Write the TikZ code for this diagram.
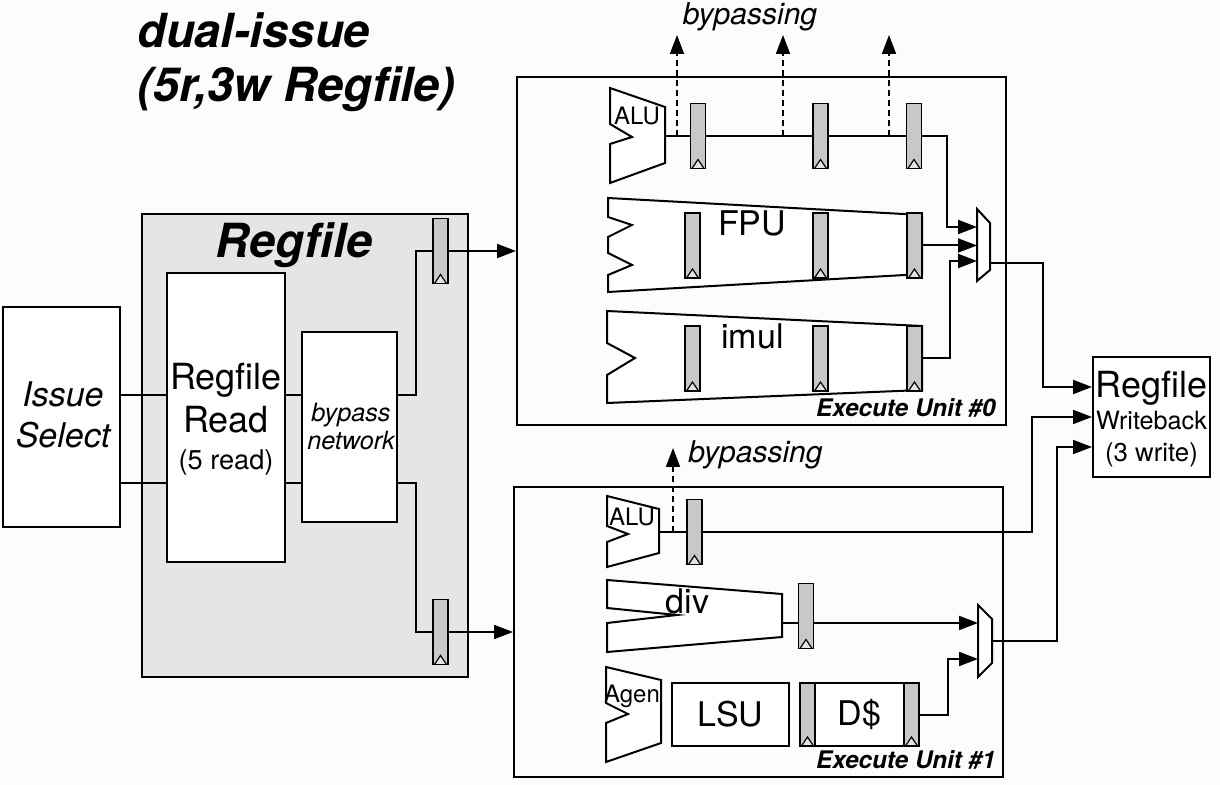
\documentclass[tikz,border=0pt]{standalone}
\usepackage{fontspec}
\setmainfont{TeX Gyre Heros}
\usetikzlibrary{arrows.meta,calc}
\definecolor{paper}{HTML}{FCFCFC}
\definecolor{rfgray}{HTML}{E5E5E5}
\definecolor{latchgray}{HTML}{C8C8C8}
\definecolor{clk}{HTML}{E4E4E4}
\newcommand{\fsz}[1]{\fontsize{#1}{#1}\selectfont}
\pgfdeclarelayer{back}
\pgfdeclarelayer{wires}
\pgfsetlayers{back,wires,main}
\tikzset{
  >={Triangle[length=9.5pt,width=7pt]},
  box/.style={draw,line width=1pt,fill=white,inner sep=0pt},
  unitbox/.style={draw,line width=1pt,inner sep=0pt},
  latch/.style={draw,line width=0.75pt,fill=latchgray,inner sep=0pt,minimum width=7.5pt,minimum height=32.5pt,
    path picture={\draw[line width=0.6pt,fill=clk]
      ([xshift=-3pt]path picture bounding box.south) -- ([yshift=4.5pt]path picture bounding box.south)
      -- ([xshift=3pt]path picture bounding box.south);}},
  fu/.style={draw,line width=1pt,fill=white},
  mux/.style={draw,line width=1pt,fill=white},
  wire/.style={line width=1pt},
  arr/.style={wire,->},
  bypass/.style={->,line width=0.9pt,dash pattern=on 3pt off 2pt},
  txt/.style={anchor=base,inner sep=0pt},
}
\begin{document}
\begin{tikzpicture}[x=0.5pt,y=-0.5pt]
\useasboundingbox (0,0) rectangle (1220,785);

% title
\node[txt,anchor=base west,font=\fsz{23.5}\bfseries\itshape] (ttl1) at (137,48) {dual-issue};
\node[txt,anchor=base west,font=\fsz{23.5}\bfseries\itshape] (ttl2) at (137,102) {(5r,3w Regfile)};

% issue + regfile stage
\begin{pgfonlayer}{back}
\fill[paper] (0,0) rectangle (1220,785);
\node[box,fill=rfgray,minimum width=163pt,minimum height=231.5pt] (rf) at (305,445.5) {};
\end{pgfonlayer}
\node[txt,font=\fsz{23.5}\bfseries\itshape] (rft) at (294,258) {Regfile};
\node[box,minimum width=58.5pt,minimum height=110pt] (iss) at (61.5,417) {};
\node[txt,font=\fsz{17}\itshape] (iss1) at (63,407) {Issue};
\node[txt,font=\fsz{17}\itshape] (iss2) at (63,448) {Select};
\node[box,minimum width=59pt,minimum height=144.5pt] (rfrd) at (226,417.5) {};
\node[txt,font=\fsz{18}] (rfrd1) at (226,390) {Regfile};
\node[txt,font=\fsz{18}] (rfrd2) at (226,433) {Read};
\node[txt,font=\fsz{13.6}] (rfrd3) at (226,470) {(5 read)};
\node[box,minimum width=47.5pt,minimum height=95pt] (bpn) at (349.5,427) {};
\node[txt,font=\fsz{12.6}\itshape] (bpn1) at (351,422) {bypass};
\node[txt,font=\fsz{12.6}\itshape] (bpn2) at (351,450) {network};
\node[latch] (lt0) at (440.5,251) {};
\node[latch] (lt1) at (440.5,632) {};

% execute units
\node[unitbox,minimum width=244.5pt,minimum height=174pt] (eu0) at (761.5,251) {};
\node[unitbox,minimum width=244.5pt,minimum height=145pt] (eu1) at (758.5,632) {};
\node[txt,anchor=base east,font=\fsz{12.1}\bfseries\itshape] (eu0l) at (996,417) {Execute Unit \#0};
\node[txt,anchor=base east,font=\fsz{12.1}\bfseries\itshape] (eu1l) at (996,768) {Execute Unit \#1};

% unit 0
\draw[fu] (610,88) -- (665,107) -- (665,163) -- (610,183) -- (610,144) -- (632,137) -- (610,124) -- cycle;
\node[txt,font=\fsz{12}] (alu0l) at (637,125) {ALU};
\draw[fu] (608,198) -- (922,215) -- (922,274) -- (608,292) -- (608,275) -- (632,265) -- (608,253)
  -- (608,237) -- (632,225) -- (608,217) -- cycle;
\node[txt,font=\fsz{17}] (fpul) at (752,236) {FPU};
\draw[fu] (607,311) -- (922,326) -- (922,390) -- (607,403) -- (607,375) -- (635,358) -- (607,343) -- cycle;
\node[txt,font=\fsz{17}] (imull) at (752.5,349) {imul};
\foreach \x/\n in {698/a,820.5/b,914/c} \node[latch] (l0\n) at (\x,136) {};
\foreach \x/\n in {692.5/a,820.5/b,914.5/c} {
  \node[latch] (lf\n) at (\x,245.5) {};
  \node[latch] (lm\n) at (\x,358.5) {};
}
\draw[mux] (977,209) -- (990,223) -- (990,270) -- (977,281) -- cycle;
\coordinate (alu0) at (665,136);
\coordinate (m0i1) at (977,227);
\coordinate (m0i2) at (977,245.5);
\coordinate (m0i3) at (977,261);
\coordinate (m0o) at (990,263);

% unit 1
\draw[fu] (607,496) -- (659,509) -- (659,553) -- (607,567) -- (607,542) -- (628,534) -- (607,526) -- cycle;
\node[txt,font=\fsz{12}] (alu1l) at (632,525) {ALU};
\node[latch] (l1a) at (694.5,532) {};
\draw[fu] (607,580) -- (782,594) -- (782,637) -- (607,652) -- (607,623) -- (677,615) -- (607,608) -- cycle;
\node[txt,font=\fsz{17}] (divl) at (687.5,613) {div};
\node[latch] (ldv) at (806,616) {};
\draw[fu] (606,667) -- (661,680) -- (661,743) -- (606,762) -- (606,723) -- (628,714) -- (606,703) -- cycle;
\node[txt,font=\fsz{12}] (agenl) at (632,702) {Agen};
\node[box,minimum width=58.5pt,minimum height=31.5pt,font=\fsz{17}] (lsu) at (730.5,714.5) {LSU};
\node[box,minimum width=59.5pt,minimum height=31.5pt,font=\fsz{17}] (dc) at (859.5,714.5) {D\$};
\node[latch,minimum height=31.5pt] (dcl) at (807.5,714.5) {};
\node[latch,minimum height=31.5pt] (dcr) at (911.5,714.5) {};
\draw[mux] (978,605) -- (992,619) -- (992,663) -- (978,677) -- cycle;
\coordinate (alu1) at (659,532);
\coordinate (dv) at (782,623);
\coordinate (m1i1) at (978,623);
\coordinate (m1i2) at (978,659);
\coordinate (m1o) at (992,641);

% writeback
\node[box,minimum width=58.5pt,minimum height=60pt] (wb) at (1151.5,417) {};
\node[txt,font=\fsz{18}] (wb1) at (1151.5,398) {Regfile};
\node[txt,font=\fsz{12.6}] (wb2) at (1151.5,430) {Writeback};
\node[txt,font=\fsz{12.9}] (wb3) at (1151.5,462) {(3 write)};

% bypass taps
\foreach \x [count=\i] in {677,783,889} \coordinate (bp\i) at (\x,136);
\coordinate (bp4) at (673,532);
\node[txt,font=\fsz{15}\itshape] (bpt0) at (750,25) {bypassing};
\node[txt,anchor=base west,font=\fsz{15}\itshape] (bpt1) at (688,463) {bypassing};

% wires
\coordinate (ra) at (0,395);
\coordinate (rb) at (0,483);
\begin{pgfonlayer}{wires}
\draw[wire] (iss.east |- ra) -- (rfrd.west |- ra);
\draw[wire] (iss.east |- rb) -- (rfrd.west |- rb);
\draw[wire] (rfrd.east |- ra) -- (bpn.west |- ra);
\draw[wire] (rfrd.east |- rb) -- (bpn.west |- rb);
\draw[arr] (bpn.east |- ra) -- ++(18,0) |- (lt0.center) -- (eu0.west);
\draw[arr] (bpn.east |- rb) -- ++(18,0) |- (lt1.center) -- (eu1.west);
\draw[arr] (alu0) -| ([xshift=-15pt]m0i1) -- (m0i1);
\draw[arr] (lfc.center) -- (m0i2);
\draw[arr] (lmc.center) -| ([xshift=-13.5pt]m0i3) -- (m0i3);
\draw[arr] (m0o) -- ++(53,0) |- ([yshift=15pt]wb.west);
\draw[arr] (alu1) -- ++(373,0) |- (wb.west);
\draw[arr] (dv) -- (m1i1);
\draw[arr] (dc.east) -| ([xshift=-15pt]m1i2) -- (m1i2);
\draw[arr] (m1o) -- ++(65,0) |- ([yshift=-15pt]wb.west);
\foreach \i in {1,2,3} \draw[bypass] (bp\i) -- ++(0,-101);
\draw[bypass] (bp4) -- ++(0,-84);
\end{pgfonlayer}
\end{tikzpicture}
\end{document}
